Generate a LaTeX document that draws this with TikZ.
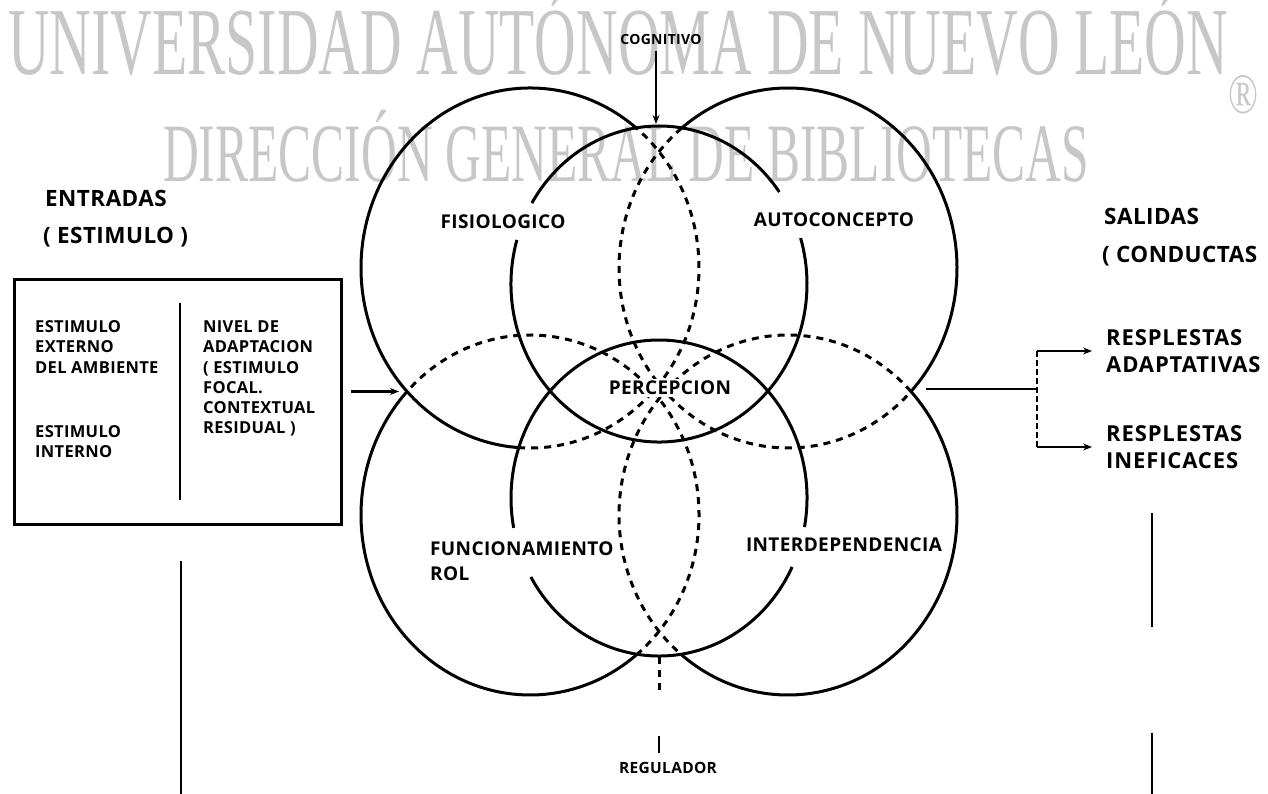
\documentclass[tikz,border=0pt]{standalone}
\usepackage{graphicx}
\usepackage{fontspec}
\setmainfont{Open Sans}
\newfontfamily\labfont{Open Sans}[LetterSpace=2]
\newfontfamily\respfont{Open Sans}[LetterSpace=4]
\newfontfamily\wmfont{Liberation Serif}
\usetikzlibrary{arrows.meta,calc}
\newcommand\earc[7]{%
  \draw[#1] ({#2+#4*cos(#6)},{#3+#5*sin(#6)}) arc[start angle=#6, end angle=#7, x radius=#4pt, y radius=#5pt];}
\begin{document}
\begin{tikzpicture}[x=1pt,y=1pt,
  ring/.style={line width=3pt},
  hid/.style={line width=3pt, dash pattern=on 7pt off 6pt},
  lab/.style={font=\labfont\fontsize{19}{21}\selectfont\bfseries, inner sep=0pt},
  small/.style={font=\labfont\fontsize{14}{16}\selectfont\bfseries, inner sep=0pt},
  boxtxt/.style={font=\labfont\fontsize{16.5}{18}\selectfont\bfseries, inner sep=0pt, anchor=base west},
  head/.style={font=\labfont\fontsize{22.5}{25}\selectfont\bfseries, inner sep=0pt, anchor=base west},
  resp/.style={font=\respfont\fontsize{22}{27}\selectfont\bfseries, inner sep=0pt, anchor=west, align=left},
  wmark/.style={text=black!22, inner sep=0pt},
  tip/.style={line width=2.6pt, -{Stealth[length=9pt,width=7pt]}},
  thin/.style={line width=2.6pt}
]
\useasboundingbox (0,0) rectangle (1268,794);
% watermark
\node[wmark,anchor=base west] (wmA) at (8,719) {\resizebox{1220pt}{\height}{\wmfont\fontsize{96}{96}\selectfont UNIVERSIDAD AUTÓNOMA DE NUEVO LEÓN}};
\node[wmark,anchor=base west] (wmB) at (163,612) {\resizebox{926pt}{\height}{\wmfont\fontsize{83}{83}\selectfont DIRECCIÓN GENERAL DE BIBLIOTECAS}};
\node[wmark] (wmR) at (1243,699) {\resizebox{30pt}{38pt}{\wmfont ®}};

% hidden parts of the four large rings
\earc{hid}{530}{526}{169}{180}{266}{411}
\earc{hid}{788}{526}{169}{180}{129}{316.7}
\earc{hid}{530}{279}{169}{180}{309}{496.7}
\earc{hid}{788}{279}{169}{180}{43.3}{231}
% visible parts
\earc{ring}{530}{526}{169}{180}{51}{266}
\earc{ring}{788}{526}{169}{180}{-43.3}{129}
\earc{ring}{530}{279}{169}{180}{136.7}{309}
\earc{ring}{788}{279}{169}{180}{231}{403.3}
\earc{ring}{659}{510}{148}{158}{35.6}{149.2}
\earc{ring}{659}{510}{148}{158}{163.8}{376.9}
\earc{ring}{659}{296}{148}{158}{210}{334.1}
\earc{ring}{659}{296}{148}{158}{349.4}{550.9}

% labels of the rings
\node[lab] (fis) at (503,572) {FISIOLOGICO};
\node[lab] (auto) at (834,574) {AUTOCONCEPTO};
\node[lab, fill=white, inner sep=2pt] (perc) at (670,406) {PERCEPCION};
\node[lab, anchor=base west] (func) at (430,238) {FUNCIONAMIENTO};
\node[lab, anchor=base west] (rol) at (430,213) {ROL};
\node[lab] (inter) at (844,249) {INTERDEPENDENCIA};

% cognitivo / regulador
\node[small] (cog) at (661,754) {COGNITIVO};
\coordinate (tctop) at (656,670);
\coordinate (cogs) at ($(cog.south -| tctop)+(0,-6)$);
\draw[tip] (cogs) -- (tctop);
\node[small, font=\labfont\fontsize{15.5}{17}\selectfont\bfseries] (reg) at (668,26) {REGULADOR};
\coordinate (regtop) at (659,137);
\coordinate (regbot) at (659,104);
\draw[hid] (regtop) -- (regbot);
\coordinate (regtick) at ($(reg.north -| regtop)+(0,9)$);
\draw[thin] (regtick) -- ++(0,17);

% entradas
\node[head] (ent) at (45,587) {ENTRADAS};
\node[head] (est) at (43,550) {( ESTIMULO )};
\node[draw, line width=3pt, minimum width=327pt, minimum height=245pt, anchor=north west, inner sep=0pt] (box) at (13,516) {};
\draw[thin] (180,491) -- (180,294);
\node[boxtxt] (l1) at (35,461.5) {ESTIMULO};
\node[boxtxt] (l2) at (35,441.5) {EXTERNO};
\node[boxtxt] (l3) at (35,420.5) {DEL AMBIENTE};
\node[boxtxt] (l4) at (35,356.5) {ESTIMULO};
\node[boxtxt] (l5) at (35,336.5) {INTERNO};
\node[boxtxt] (r1) at (203,461.5) {NIVEL DE};
\node[boxtxt] (r2) at (203,441.5) {ADAPTACION};
\node[boxtxt] (r3) at (203,420.5) {( ESTIMULO};
\node[boxtxt] (r4) at (203,400.5) {FOCAL.};
\node[boxtxt] (r5) at (203,380.5) {CONTEXTUAL};
\node[boxtxt] (r6) at (203,360.5) {RESIDUAL )};
\coordinate (lcross) at (410,402.5);
\draw[tip] ($(box.east |- lcross)+(8,0)$) -- ($(lcross)+(-11,0)$);
\draw[thin] (181,233) -- (181,0);

% salidas
\node[head] (sal) at (1104,569) {SALIDAS};
\node[head] (cond) at (1102,531) {( CONDUCTAS};
\coordinate (rcross) at (926,405);
\coordinate (brk) at (1037,405);
\draw[thin] (rcross) -- (brk);
\node[resp] (ra) at (1106,443) {RESPLESTAS\\ADAPTATIVAS};
\node[resp] (ri) at (1106,347) {RESPLESTAS\\INEFICACES};
\draw[line width=1.4pt, dash pattern=on 6pt off 3pt] (brk |- ra) -- (brk |- ri);
\draw[tip] (brk |- ra) -- ([xshift=-14pt]ra.west);
\draw[tip] (brk |- ri) -- ([xshift=-14pt]ri.west);
\draw[thin] (1152,281) -- (1152,167);
\draw[thin] (1152,61) -- (1152,0);
\end{tikzpicture}
\end{document}
